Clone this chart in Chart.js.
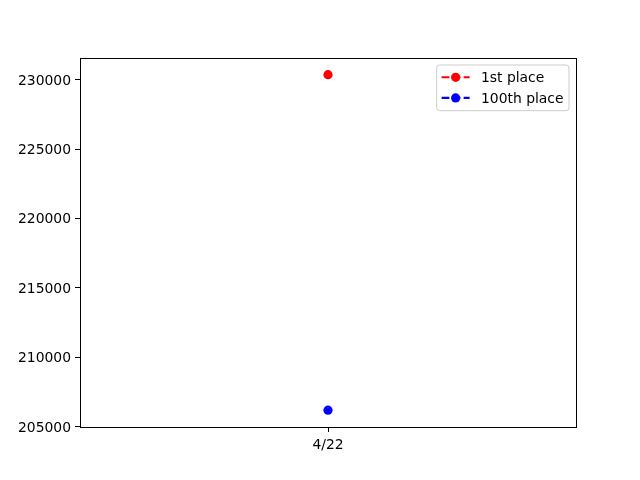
<!DOCTYPE html>
<html>
<head>
<meta charset="utf-8">
<script src="https://cdn.jsdelivr.net/npm/chart.js@4"></script>
<style>
html,body{margin:0;padding:0;background:#fff;}
#wrap{width:640px;height:480px;}
</style>
</head>
<body>
<div id="wrap"><canvas id="c" width="640" height="480"></canvas></div>
<script>
const categories = ['4/22'];
const firstPlace = [230360];
const hundredthPlace = [206170];
const seriesLabels = ['1st place', '100th place'];
const seriesColors = ['#ff0000', '#0000ff'];
const yTicks = [205000, 210000, 215000, 220000, 225000, 230000];
const yMin = 204957;
const yMax = 231565;

const FONT = 'DejaVu Sans';
const FS = 13.9;

const framePlugin = {
  id: 'frame',
  afterDraw(chart) {
    const {ctx, chartArea: a} = chart;
    ctx.save();
    ctx.strokeStyle = '#000';
    ctx.lineWidth = 1;
    ctx.strokeRect(Math.round(a.left) + 0.5, Math.round(a.top) + 0.5, Math.round(a.right - a.left), Math.round(a.bottom - a.top));
    ctx.restore();
  }
};

const legendPlugin = {
  id: 'mplLegend',
  afterDraw(chart) {
    const {ctx, chartArea: a} = chart;
    const ds = chart.data.datasets;
    ctx.save();
    ctx.font = FS + 'px "' + FONT + '"';
    let maxW = 0;
    ds.forEach(d => { maxW = Math.max(maxW, ctx.measureText(d.label).width); });
    const bw = 44.3 + maxW + 5.5;
    const bh = 45.7;
    const bx = a.right - 7 - bw;
    const by = a.top + 7;
    ctx.beginPath();
    const r = 3;
    ctx.moveTo(bx + r, by);
    ctx.arcTo(bx + bw, by, bx + bw, by + bh, r);
    ctx.arcTo(bx + bw, by + bh, bx, by + bh, r);
    ctx.arcTo(bx, by + bh, bx, by, r);
    ctx.arcTo(bx, by, bx + bw, by, r);
    ctx.closePath();
    ctx.fillStyle = 'rgba(255,255,255,0.8)';
    ctx.fill();
    ctx.strokeStyle = '#cccccc';
    ctx.lineWidth = 1;
    ctx.stroke();
    ds.forEach((d, i) => {
      const cy = by + 12.3 + i * 20.6;
      const x0 = bx + 5;
      const x1 = x0 + 28;
      ctx.strokeStyle = d.borderColor;
      ctx.lineWidth = 2.08;
      ctx.setLineDash([7.7, 3.3]);
      ctx.beginPath();
      ctx.moveTo(x0, cy);
      ctx.lineTo(x1, cy);
      ctx.stroke();
      ctx.setLineDash([]);
      ctx.fillStyle = d.backgroundColor;
      ctx.beginPath();
      ctx.arc((x0 + x1) / 2, cy, 4.6, 0, Math.PI * 2);
      ctx.fill();
      ctx.fillStyle = '#000';
      ctx.textBaseline = 'middle';
      ctx.textAlign = 'left';
      ctx.fillText(d.label, x1 + 11.3, cy + 1);
    });
    ctx.restore();
  }
};

const datasets = [firstPlace, hundredthPlace].map((vals, i) => ({
  label: seriesLabels[i],
  data: vals,
  borderColor: seriesColors[i],
  backgroundColor: seriesColors[i],
  borderDash: [7.7, 3.3],
  borderWidth: 2.08,
  pointRadius: 4.6,
  pointHoverRadius: 4.6,
  pointBorderWidth: 0,
  fill: false
}));

new Chart(document.getElementById('c'), {
  type: 'line',
  data: { labels: categories, datasets },
  options: {
    responsive: false,
    animation: false,
    devicePixelRatio: 1,
    layout: { padding: { left: 0, top: 58, right: 64, bottom: 0 } },
    plugins: { legend: { display: false }, tooltip: { enabled: false } },
    scales: {
      x: {
        type: 'category',
        offset: true,
        grid: { display: true, drawOnChartArea: false, drawTicks: true, tickLength: 5, color: '#000', tickColor: '#000' },
        border: { display: false },
        ticks: { color: '#000', font: { family: FONT, size: FS }, padding: 5, maxRotation: 0 },
        afterFit(s) { s.height = 53; }
      },
      y: {
        min: yMin,
        max: yMax,
        grid: { display: true, drawOnChartArea: false, drawTicks: true, tickLength: 5, color: '#000', tickColor: '#000' },
        border: { display: false },
        afterBuildTicks(s) { s.ticks = yTicks.map(v => ({ value: v })); },
        ticks: { color: '#000', font: { family: FONT, size: FS }, padding: 4, labelOffset: 1.5, callback: v => String(v) },
        afterFit(s) { s.width = 80; }
      }
    }
  },
  plugins: [framePlugin, legendPlugin]
});
</script>
</body>
</html>
